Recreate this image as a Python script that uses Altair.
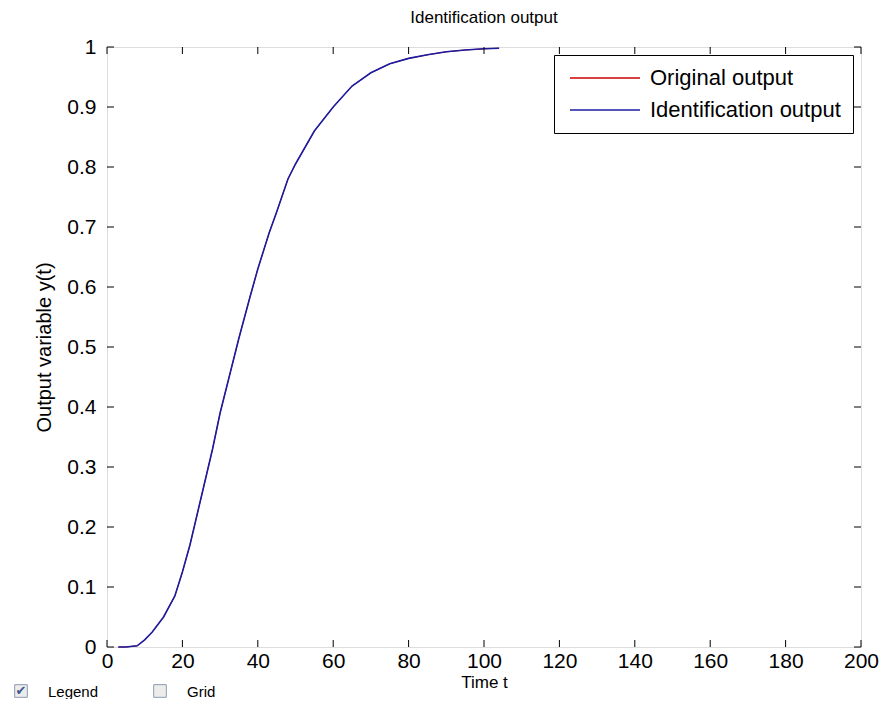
import altair as alt
import pandas as pd

# ---- data ----
time_t = [3, 5, 8, 10, 12, 15, 18, 20, 22, 25, 28, 30, 33, 35, 38, 40, 43, 45,
          48, 50, 55, 60, 65, 70, 75, 80, 85, 90, 95, 100, 104]
original_output = [0.0, 0.0, 0.002, 0.012, 0.025, 0.05, 0.085, 0.125, 0.17, 0.25,
                   0.33, 0.39, 0.465, 0.515, 0.585, 0.63, 0.69, 0.725, 0.78, 0.805,
                   0.86, 0.90, 0.935, 0.957, 0.972, 0.981, 0.987, 0.992, 0.995,
                   0.997, 0.998]
identification_output = [0.0, 0.0, 0.002, 0.012, 0.025, 0.05, 0.085, 0.125, 0.17, 0.25,
                         0.33, 0.39, 0.465, 0.515, 0.585, 0.63, 0.69, 0.725, 0.78, 0.805,
                         0.86, 0.90, 0.935, 0.957, 0.972, 0.981, 0.987, 0.992, 0.995,
                         0.997, 0.998]
series_names = ["Original output", "Identification output"]
series_colors = ["#cc0000", "#1c1ca0"]
x_ticks = [0, 20, 40, 60, 80, 100, 120, 140, 160, 180, 200]
y_ticks = [0, 0.1, 0.2, 0.3, 0.4, 0.5, 0.6, 0.7, 0.8, 0.9, 1]
checkbox_labels = ["Legend", "Grid"]

W, H = 754, 600
FONT = "Liberation Sans"

df_orig = pd.DataFrame({"t": time_t, "y": original_output, "series": series_names[0]})
df_ident = pd.DataFrame({"t": time_t, "y": identification_output, "series": series_names[1]})

xscale = alt.Scale(domain=[0, 200], nice=False)
yscale = alt.Scale(domain=[0, 1], nice=False)

x_enc = alt.X("t:Q", scale=xscale,
              axis=alt.Axis(values=x_ticks, ticks=False, domain=False, grid=False,
                            labelFontSize=21, labelPadding=3, labelFont=FONT,
                            labelColor="#000", title="Time t", titleFontSize=17,
                            titleFont=FONT, titleFontWeight="normal", titleColor="#000",
                            titlePadding=3, format="d", labelFlush=False))
y_enc = alt.Y("y:Q", scale=yscale,
              axis=alt.Axis(values=y_ticks, ticks=False, domain=False, grid=False,
                            labelFontSize=21, labelPadding=11, labelFont=FONT,
                            labelColor="#000", title="Output variable y(t)",
                            titleFontSize=20, titleFont=FONT, titleFontWeight="normal",
                            titleColor="#000", titlePadding=12, labelFlush=False,
                            format="~g"))

color_enc = alt.Color(
    "series:N",
    scale=alt.Scale(domain=series_names, range=series_colors),
    legend=alt.Legend(
        title=None, orient="top-right", offset=8, padding=12,
        fillColor="white", strokeColor="black", cornerRadius=0,
        symbolType="M-1,0L9,0", symbolSize=196, symbolStrokeWidth=1.5,
        labelFontSize=22, labelFont=FONT, labelColor="#000", labelOffset=62,
        rowPadding=10, labelLimit=400,
    ),
)

line_orig = alt.Chart(df_orig).mark_line(strokeWidth=1).encode(
    x=x_enc, y=y_enc, color=color_enc)
line_ident = alt.Chart(df_ident).mark_line(strokeWidth=1.6).encode(
    x=alt.X("t:Q", scale=xscale), y=alt.Y("y:Q", scale=yscale), color=color_enc)

# inward ticks on all four sides
xt = pd.DataFrame({"v": x_ticks})
yt = pd.DataFrame({"v": y_ticks})
tick_style = dict(color="black", strokeWidth=1)
xt_bottom = alt.Chart(xt).mark_rule(**tick_style).encode(
    x=alt.X("v:Q", scale=xscale), y=alt.value(H), y2=alt.value(H - 7))
xt_top = alt.Chart(xt).mark_rule(**tick_style).encode(
    x=alt.X("v:Q", scale=xscale), y=alt.value(0), y2=alt.value(7))
yt_left = alt.Chart(yt).mark_rule(**tick_style).encode(
    y=alt.Y("v:Q", scale=yscale), x=alt.value(0), x2=alt.value(7))
yt_right = alt.Chart(yt).mark_rule(**tick_style).encode(
    y=alt.Y("v:Q", scale=yscale), x=alt.value(W), x2=alt.value(W - 7))

# GUI check boxes under the axes
cb = pd.DataFrame({"label": checkbox_labels, "bx": [-86, 53], "tx": [-59, 80],
                   "mark": ["\u2714", ""]})
cb_box = alt.Chart(cb).mark_square(size=160, fill="#ececec", stroke="#8c9bb3",
                                   strokeWidth=1, opacity=1).encode(
    x=alt.X("bx:Q", scale=None), y=alt.value(644))
cb_check = alt.Chart(cb).mark_text(fontSize=13, font="DejaVu Sans", color="#3d5a8c",
                                   align="center", baseline="middle").encode(
    x=alt.X("bx:Q", scale=None), y=alt.value(644), text="mark:N")
cb_text = alt.Chart(cb).mark_text(fontSize=15, font=FONT, color="#000",
                                  align="left", baseline="middle").encode(
    x=alt.X("tx:Q", scale=None), y=alt.value(645), text="label:N")

chart = alt.layer(
    line_orig, line_ident, xt_bottom, xt_top, yt_left, yt_right,
    cb_box, cb_check, cb_text,
).properties(
    width=W, height=H,
    title=alt.Title("Identification output", fontSize=17, font=FONT,
                    fontWeight="normal", color="#000", offset=9),
    autosize=alt.AutoSizeParams(type="none"),
    padding={"left": 99, "top": 39, "right": 18, "bottom": 52},
).configure_view(
    stroke="black", strokeWidth=1
).configure(background="white")

chart.save("out.html", embed_options={"renderer": "svg", "actions": False})
